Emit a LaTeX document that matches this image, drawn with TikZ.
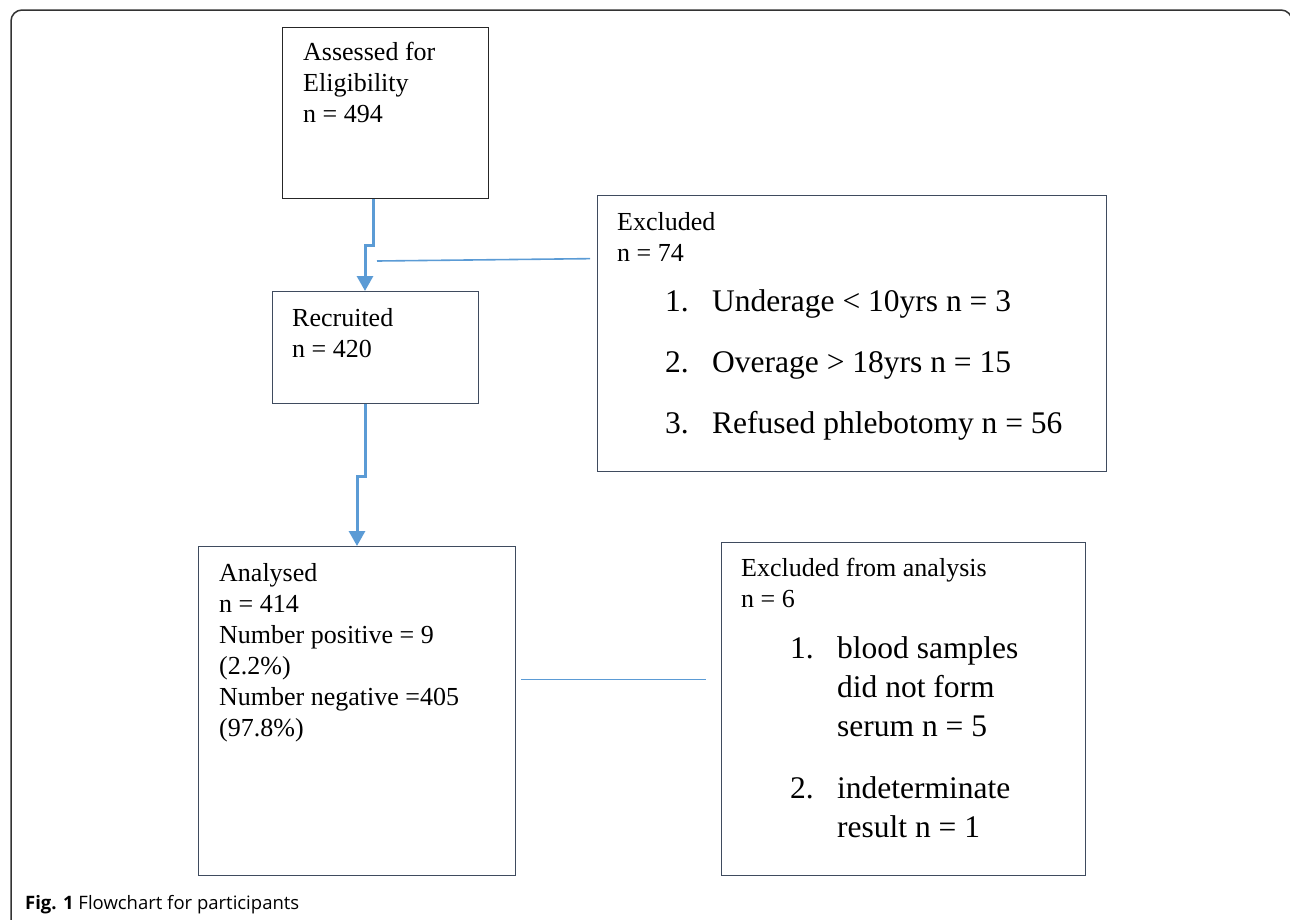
\documentclass[tikz,border=0pt]{standalone}
\usepackage{fontspec}
\setmainfont{Liberation Serif}
\newfontfamily\capfont{Open Sans}
\usetikzlibrary{arrows.meta,calc}
\definecolor{flowblue}{HTML}{5B9BD5}
\definecolor{boxgray}{HTML}{3F4B5E}
\definecolor{framegray}{HTML}{333333}
\tikzset{
  box/.style={draw=boxgray, line width=1.3pt, minimum width=#1, anchor=north west, inner sep=0pt},
  txt/.style={anchor=base west, inner sep=0pt, align=left, font=\fontsize{26}{31}\selectfont},
  listtxt/.style={anchor=base west, inner sep=0pt, align=left},
  flowarrow/.style={draw=flowblue, line width=3pt, -{Triangle[width=16pt,length=15pt]}},
  thinline/.style={draw=flowblue, line width=1.6pt},
}
\begin{document}
\begin{tikzpicture}[x=1pt,y=-1pt]
\useasboundingbox (0,0) rectangle (1290,919);
% outer frame
\draw[framegray, line width=1.5pt, rounded corners=11pt] (11,940) -- (11,10) -- (1292,10) -- (1292,940);
% boxes
\node[box=206pt, minimum height=171pt, draw=black!85] (A) at (282,27) {};
\node[box=206pt, minimum height=112pt] (B) at (272,291) {};
\node[box=509pt, minimum height=276pt] (C) at (597,195) {};
\node[box=317pt, minimum height=329pt] (D) at (198,546) {};
\node[box=364pt, minimum height=333pt] (E) at (721,542) {};
% texts (anchor = baseline of the last line)
\node[txt] (tA) at (303,122) {Assessed for\\Eligibility\\n = 494};
\node[txt] (tB) at (292,357) {Recruited\\n = 420};
\node[txt, font=\fontsize{26}{31}\selectfont] (tC) at (617,261) {Excluded\\n = 74};
\node[listtxt, font=\fontsize{31.5}{61}\selectfont] (lC) at (665,433)
  {\makebox[47pt][l]{1.}Underage < 10yrs n = 3\\
   \makebox[47pt][l]{2.}Overage > 18yrs n = 15\\
   \makebox[47pt][l]{3.}Refused phlebotomy n = 56};
\node[txt] (tD) at (219,736) {Analysed\\n = 414\\Number positive = 9\\(2.2\%)\\Number negative =405\\(97.8\%)};
\node[txt, font=\fontsize{26}{31}\selectfont] (tE) at (741,607) {Excluded from analysis\\n = 6};
\node[listtxt, font=\fontsize{31.5}{39}\selectfont] (lE) at (790,837)
  {\makebox[47pt][l]{1.}blood samples\\
   \hspace*{47pt}did not form\\
   \hspace*{47pt}serum n = 5\\[23pt]
   \makebox[47pt][l]{2.}indeterminate\\
   \hspace*{47pt}result n = 1};
% caption
\node[anchor=base west, inner sep=0pt, font=\capfont\fontsize{18.5}{23}\selectfont] (cap) at (25,909)
  {\textbf{Fig. 1} Flowchart for participants};
% connectors
\coordinate (a1) at ($(A.south west)+(91,0)$);
\coordinate (b1) at ($(B.north west)+(93,0)$);
\draw[flowarrow] (a1) -- ++(0,46) -| (b1);
\coordinate (b2) at ($(B.south west)+(93,0)$);
\coordinate (d1) at ($(D.north west)+(159,0)$);
\draw[flowarrow] (b2) -- ++(0,72) -| (d1);
\coordinate (s1) at (377,261);
\coordinate (c1) at ($(C.west)+(-7,-75)$);
\draw[thinline] (s1) -- (c1);
\coordinate (d2) at ($(D.east)+(5,-31.5)$);
\coordinate (e2) at ($(E.west)+(-15,-29.5)$);
\draw[thinline] (d2) -- (e2);
\end{tikzpicture}
\end{document}
